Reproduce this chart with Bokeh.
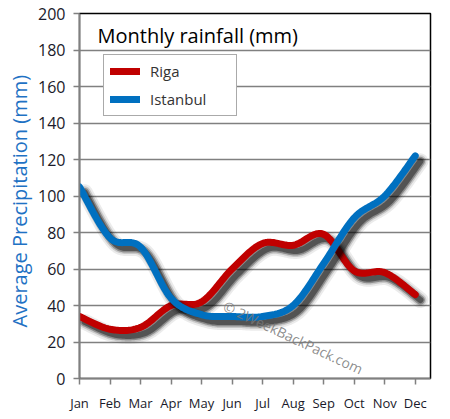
import numpy as np
from bokeh.plotting import figure
from bokeh.models import Range1d, FixedTicker, Legend, LegendItem, Label
from bokeh.embed import file_html
from bokeh.resources import INLINE

months = ["Jan", "Feb", "Mar", "Apr", "May", "Jun", "Jul", "Aug", "Sep", "Oct", "Nov", "Dec"]
riga = [34, 27, 28, 40, 42, 60, 74, 73, 79, 59, 58, 46]
istanbul = [105, 77, 72, 44, 35, 34, 34, 40, 63, 88, 100, 122]
y_ticks = [0, 20, 40, 60, 80, 100, 120, 140, 160, 180, 200]

RED = "#C00000"
BLUE = "#0070C0"
FONT = "Open Sans"


def smooth(ys, n=20):
    """Bezier (Excel-style) rendering of the series through its 12 points."""
    xs = np.arange(len(ys), dtype=float)
    ys = np.asarray(ys, dtype=float)
    P = np.column_stack([xs, ys])
    ext = np.vstack([P[0], P, P[-1]])
    out = []
    t = np.linspace(0, 1, n, endpoint=False)[:, None]
    for i in range(len(P) - 1):
        p0, p1, p2, p3 = ext[i], ext[i + 1], ext[i + 2], ext[i + 3]
        c1 = p1 + (p2 - p0) / 6.0
        c2 = p2 - (p3 - p1) / 6.0
        seg = ((1 - t) ** 3) * p1 + 3 * ((1 - t) ** 2) * t * c1 + 3 * (1 - t) * t ** 2 * c2 + t ** 3 * p2
        out.append(seg)
    out.append(P[-1][None, :])
    arr = np.vstack(out)
    return arr[:, 0], arr[:, 1]


p = figure(width=450, height=419, output_backend="svg", toolbar_location=None,
           x_range=Range1d(0, 11.5), y_range=Range1d(0, 200),
           min_border_left=79, min_border_right=20, min_border_top=13, min_border_bottom=41)
p.background_fill_color = "white"
p.border_fill_color = "white"
p.outline_line_color = "black"
p.outline_line_width = 1.5

p.xgrid.grid_line_color = None
p.ygrid.grid_line_color = "#808080"
p.ygrid.grid_line_width = 1.5
p.ygrid.ticker = FixedTicker(ticks=y_ticks)

p.yaxis.ticker = FixedTicker(ticks=y_ticks)
p.xaxis.ticker = FixedTicker(ticks=list(range(12)))
p.xaxis.major_label_overrides = {i: m for i, m in enumerate(months)}

for ax in (p.xaxis, p.yaxis):
    ax.axis_line_color = "#808080"
    ax.axis_line_width = 1.5
    ax.major_tick_line_color = "#808080"
    ax.major_tick_line_width = 1.5
    ax.major_tick_in = 0
    ax.major_tick_out = 6
    ax.minor_tick_line_color = None
    ax.major_label_text_font = FONT
    ax.major_label_text_color = "#1a1a2a"

p.yaxis.major_label_text_font_size = "16px"
p.yaxis.major_label_standoff = 8
p.xaxis.major_label_text_font_size = "13px"
p.xaxis.major_label_standoff = 9

p.yaxis.axis_label = "Average  Precipitation  (mm)"
p.yaxis.axis_label_text_font = FONT
p.yaxis.axis_label_text_font_size = "20px"
p.yaxis.axis_label_text_font_style = "normal"
p.yaxis.axis_label_text_color = "#1F72C4"
p.yaxis.axis_label_standoff = 2

# shadows + lines
dx, dy = 0.17, -3.0
renderers = {}
for name, vals, col in (("Riga", riga, RED), ("Istanbul", istanbul, BLUE)):
    sx, sy = smooth(vals)
    for w, a in ((16, 0.08), (12, 0.15), (9, 0.3), (6, 0.4)):
        p.line(sx + dx, sy + dy, line_color="black", line_alpha=a, line_width=w,
               line_cap="round", line_join="round")
    renderers[name] = p.line(sx, sy, line_color=col, line_width=7,
                             line_cap="round", line_join="round")

# watermark
p.add_layout(Label(x=7.0, y=22.5, text="\u00a9 2WeekBackPack.com", angle=-0.44,
                   text_font=FONT, text_font_size="14px", text_color="#777777",
                   text_alpha=0.85, text_align="center", text_baseline="middle"))

# title inside plot
p.add_layout(Label(x=18, y=343, x_units="screen", y_units="screen",
                   text="Monthly rainfall (mm)", text_font=FONT, text_font_size="20px",
                   text_color="black", text_baseline="middle", text_align="left"))

legend = Legend(items=[LegendItem(label="Riga", renderers=[renderers["Riga"]]),
                       LegendItem(label="Istanbul", renderers=[renderers["Istanbul"]])],
                location=(24, 262), padding=6, spacing=8, glyph_width=30, glyph_height=20,
                label_height=20, label_width=80, label_standoff=10, margin=0)
legend.border_line_color = "#555555"
legend.border_line_width = 1.2
legend.background_fill_color = "white"
legend.background_fill_alpha = 1.0
legend.label_text_font = FONT
legend.label_text_font_size = "15px"
legend.label_text_color = "#333333"
p.add_layout(legend, "center")

open("out.html", "w").write(file_html(p, INLINE))
